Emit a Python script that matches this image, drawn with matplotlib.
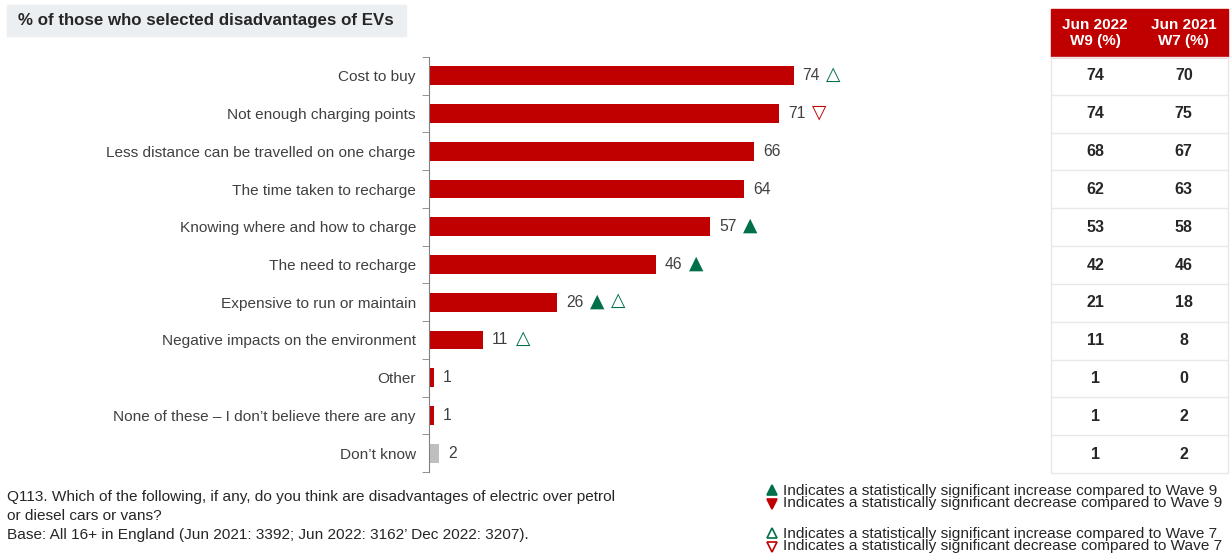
import matplotlib.pyplot as plt
from matplotlib.patches import Rectangle
from matplotlib.lines import Line2D
import numpy as np

plt.rcParams["font.family"] = ["Liberation Sans", "DejaVu Sans"]

# --- data -------------------------------------------------------------------
categories = [
    "Cost to buy",
    "Not enough charging points",
    "Less distance can be travelled on one charge",
    "The time taken to recharge",
    "Knowing where and how to charge",
    "The need to recharge",
    "Expensive to run or maintain",
    "Negative impacts on the environment",
    "Other",
    "None of these \u2013 I don\u2019t believe there are any",
    "Don\u2019t know",
]
dec_2022 = [74, 71, 66, 64, 57, 46, 26, 11, 1, 1, 2]
jun_2022 = [74, 74, 68, 62, 53, 42, 21, 11, 1, 1, 1]
jun_2021 = [70, 75, 67, 63, 58, 46, 18, 8, 0, 2, 2]
# significance flags: vs wave 9 (filled), vs wave 7 (hollow); +1 up, -1 down
sig_w9 = [0, 0, 0, 0, 1, 1, 1, 0, 0, 0, 0]
sig_w7 = [1, -1, 0, 0, 0, 0, 1, 1, 0, 0, 0]
table_headers = ["Jun 2022\nW9 (%)", "Jun 2021\nW7 (%)"]

RED, GREY_BAR, GREEN = "#c00000", "#bfbfbf", "#00704a"
TXT = "#404040"

fig = plt.figure(figsize=(12.3, 5.58), dpi=100)
W, H = 1230, 558


def fax(x0, y0, x1, y1):
    return [x0 / W, 1 - y1 / H, (x1 - x0) / W, (y1 - y0) / H]


# --- bar chart -------------------------------------------------------------
ax = fig.add_axes(fax(429, 57, 1040, 472))
y = np.arange(len(categories))
colors = [RED] * (len(categories) - 1) + [GREY_BAR]
ax.barh(y, dec_2022, height=0.5, color=colors)
ax.set_ylim(len(categories) - 0.5, -0.5)
ax.set_xlim(0, 124)
for s in ["top", "right", "bottom"]:
    ax.spines[s].set_visible(False)
ax.spines["left"].set_color("#808080")
ax.set_xticks([])
ax.set_yticks(y)
ax.set_yticklabels(categories, fontsize=11.1, color=TXT)
ax.tick_params(axis="y", which="major", length=0, pad=9.4)
ax.set_yticks(np.arange(-0.5, len(categories), 1), minor=True)
ax.tick_params(axis="y", which="minor", length=5, color="#808080")

for i, v in enumerate(dec_2022):
    ax.annotate(str(v), (v, i), xytext=(6.5, 0), textcoords="offset points",
                va="center", ha="left", fontsize=11.3, color=TXT)
    off = 6.5 + 6.3 * len(str(v)) + 4.5
    if sig_w9[i]:
        ax.annotate("\u25b2" if sig_w9[i] > 0 else "\u25bc", (v, i), xytext=(off, 1),
                    textcoords="offset points", va="center", ha="left",
                    fontsize=13.5, color=GREEN if sig_w9[i] > 0 else RED,
                    family="DejaVu Sans")
        off += 15
    if sig_w7[i]:
        ax.annotate("\u25b3" if sig_w7[i] > 0 else "\u25bd", (v, i), xytext=(off, 1),
                    textcoords="offset points", va="center", ha="left",
                    fontsize=13.5, color=GREEN if sig_w7[i] > 0 else RED,
                    family="DejaVu Sans")

# --- comparison table --------------------------------------------------------
tx = fig.add_axes(fax(1051, 57, 1228, 473))
tx.set_xlim(0, 2)
tx.set_ylim(len(categories) - 0.5, -0.5)
tx.axis("off")
hdr_h = 48 / 37.8
tx.add_patch(Rectangle((0, -0.5 - hdr_h), 2, hdr_h, color=RED, clip_on=False))
for j, h in enumerate(table_headers):
    tx.text(j + 0.5, -0.5 - hdr_h / 2, h, ha="center", va="center",
            color="white", fontsize=11, fontweight="bold", linespacing=1.1)
tx.add_patch(Rectangle((0, -0.5), 2, len(categories), fill=False,
                       ec="#e6e9ec", lw=1, clip_on=False))
for k in range(1, len(categories)):
    tx.axhline(k - 0.5, color="#e6e9ec", lw=1)
for i in range(len(categories)):
    for j, col in enumerate([jun_2022, jun_2021]):
        tx.text(j + 0.5, i, str(col[i]), ha="center", va="center",
                fontsize=11.5, fontweight="bold", color="#262626")

# --- title box ---------------------------------------------------------------
fig.patches.append(Rectangle((7 / W, 1 - 36 / H), 399 / W, 31 / H,
                             transform=fig.transFigure, color="#eceff1"))
fig.text(18 / W, 1 - 20 / H, "% of those who selected disadvantages of EVs",
         fontsize=12.2, fontweight="bold", color="#262626", va="center")

# --- footnotes ---------------------------------------------------------------
notes = [
    "Q113. Which of the following, if any, do you think are disadvantages of electric over petrol",
    "or diesel cars or vans?",
    "Base: All 16+ in England (Jun 2021: 3392; Jun 2022: 3162\u2019 Dec 2022: 3207).",
]
for k, t in enumerate(notes):
    fig.text(7 / W, 1 - (497 + 19 * k) / H, t, fontsize=11.1, color="#262626",
             va="center")

# significance key: (marker, filled, colour, y in px)
key_marks = [("^", True, GREEN, 490), ("v", True, RED, 504),
             ("^", False, GREEN, 533), ("v", False, RED, 547)]
for m, filled, c, yy in key_marks:
    fig.add_artist(Line2D([772 / W], [1 - yy / H], marker=m, markersize=7.5,
                          color=c, mfc=c if filled else "white", mew=1.2,
                          transform=fig.transFigure))
key_text = [
    "Indicates a statistically significant increase compared to Wave 9\n"
    "Indicates a statistically significant decrease compared to Wave 9",
    "Indicates a statistically significant increase compared to Wave 7\n"
    "Indicates a statistically significant decrease compared to Wave 7",
]
for t, yy in zip(key_text, [497, 540]):
    fig.text(783 / W, 1 - yy / H, t, fontsize=11.1, color="#262626",
             va="center", linespacing=0.9)

fig.savefig("out.png", dpi=100)
